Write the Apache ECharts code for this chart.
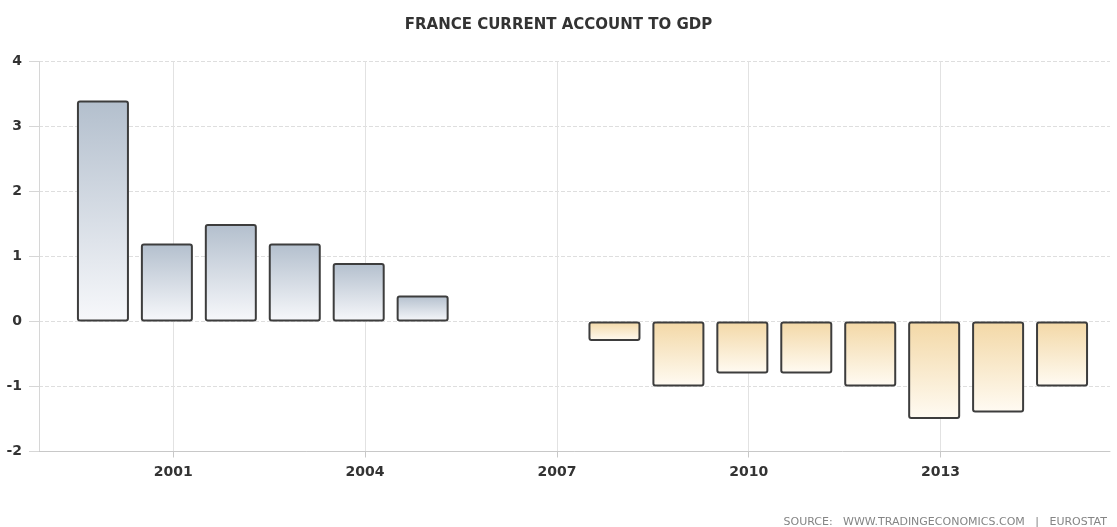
<!DOCTYPE html>
<html>
<head>
<meta charset="utf-8">
<script src="https://cdn.jsdelivr.net/npm/echarts@6/dist/echarts.min.js"></script>
<style>
html,body{margin:0;padding:0;background:#fff;}
#chart{width:1117px;height:527px;}
</style>
</head>
<body>
<div id="chart"></div>
<script>
// ---- data ----
var years = [2000, 2001, 2002, 2003, 2004, 2005, 2006, 2007, 2008, 2009, 2010, 2011, 2012, 2013, 2014, 2015];
var values = [3.4, 1.2, 1.5, 1.2, 0.9, 0.4, null, null, -0.3, -1.0, -0.8, -0.8, -1.0, -1.5, -1.4, -1.0];
var xTickYears = [2001, 2004, 2007, 2010, 2013];
var titleText = 'FRANCE CURRENT ACCOUNT TO GDP';
var sourceText = 'SOURCE:   WWW.TRADINGECONOMICS.COM   |   EUROSTAT';

var seriesData = [];
for (var i = 0; i < years.length; i++) {
  if (values[i] !== null) seriesData.push([years[i], values[i]]);
}

var blueGrad = new echarts.graphic.LinearGradient(0, 0, 0, 1, [
  {offset: 0, color: '#b3bfcd'},
  {offset: 1, color: '#f7f8fb'}
]);
var orangeGrad = new echarts.graphic.LinearGradient(0, 0, 0, 1, [
  {offset: 0, color: '#f3d8a6'},
  {offset: 1, color: '#fffbf3'}
]);

var chart = echarts.init(document.getElementById('chart'), null, {renderer: 'canvas'});
var font = 'DejaVu Sans';
chart.setOption({
  animation: false,
  backgroundColor: '#ffffff',
  title: [{
    text: titleText,
    left: 'center',
    top: 13,
    textStyle: {fontFamily: font, fontSize: 15, fontWeight: 'bold', color: '#333333'}
  }, {
    text: sourceText,
    right: 5,
    top: 512,
    textStyle: {fontFamily: font, fontSize: 11, fontWeight: 'normal', color: '#858585'}
  }],
  grid: {left: 39, right: 7, top: 61.5, bottom: 75.5, containLabel: false},
  xAxis: [{
    type: 'value',
    min: 1998.9,
    max: 2015.65,
    axisLine: {show: true, onZero: false, lineStyle: {color: '#c8c8c8', width: 1}},
    axisTick: {show: true, length: 6, customValues: xTickYears, lineStyle: {color: '#c8c8c8'}},
    axisLabel: {
      customValues: xTickYears,
      margin: 14,
      fontFamily: font, fontSize: 14, fontWeight: 'bold', color: '#333333',
      formatter: function (v) { return String(v); }
    },
    splitLine: {show: true, lineStyle: {color: '#e2e2e2', type: 'solid', width: 1}}
  }, {
    type: 'value',
    min: 1999.0,
    max: 2015.75,
    show: false,
    axisLine: {onZero: false},
    splitLine: {show: false}
  }],
  yAxis: {
    type: 'value',
    min: -2,
    max: 4,
    interval: 1,
    axisLine: {show: true, lineStyle: {color: '#d6d6d6'}},
    axisTick: {show: true, length: 10, lineStyle: {color: '#d6d6d6'}},
    axisLabel: {margin: 17, fontFamily: font, fontSize: 14, fontWeight: 'bold', color: '#333333'},
    splitLine: {show: true, lineStyle: {color: '#dedede', type: [4, 2], width: 1}}
  },
  series: [{
    type: 'bar',
    xAxisIndex: 1,
    data: seriesData,
    barWidth: 52,
    itemStyle: {
      borderColor: '#3d3d3d',
      borderWidth: 2,
      borderRadius: 2,
      color: function (p) { return p.value[1] >= 0 ? blueGrad : orangeGrad; }
    }
  }]
});
</script>
</body>
</html>
